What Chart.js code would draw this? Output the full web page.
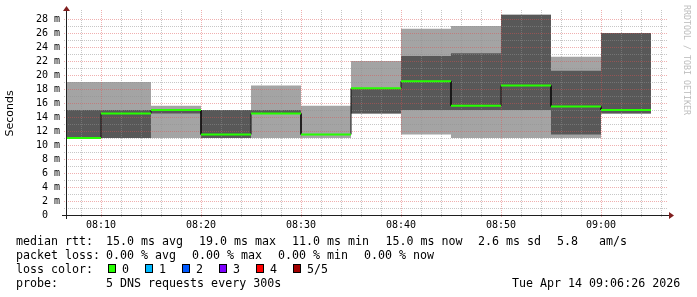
<!DOCTYPE html>
<html><head><meta charset="utf-8">
<script src="https://cdn.jsdelivr.net/npm/chart.js@4.4.1/dist/chart.umd.min.js"></script>
<style>
html,body{margin:0;padding:0;background:#fff;}
#wrap{position:relative;width:697px;height:297px;overflow:hidden;background:#fff;}
#c{position:absolute;left:0;top:0;}
.t{position:absolute;font-family:"DejaVu Sans Mono",monospace;font-size:11.65px;line-height:14px;white-space:pre;color:#000;}
.box{position:absolute;width:6px;height:7px;border:1px solid #000;top:264px;}
#wm{position:absolute;left:691px;top:5px;font-family:"DejaVu Sans Mono",monospace;font-size:8.3px;line-height:8px;white-space:pre;color:#bdbdbd;transform:rotate(90deg);transform-origin:0 0;}
</style></head><body>
<div id="wrap">
<canvas id="c" width="697" height="297"></canvas>
<div id="wm">RRDTOOL / TOBI OETIKER</div>
<div class="t" style="left:16px;top:234px">median rtt:</div>
<div class="t" style="left:106px;top:234px">15.0 ms avg</div>
<div class="t" style="left:199px;top:234px">19.0 ms max</div>
<div class="t" style="left:292px;top:234px">11.0 ms min</div>
<div class="t" style="left:385.5px;top:234px">15.0 ms now</div>
<div class="t" style="left:478px;top:234px">2.6 ms sd</div>
<div class="t" style="left:557px;top:234px">5.8   am/s</div>
<div class="t" style="left:16px;top:248px">packet loss:</div>
<div class="t" style="left:106px;top:248px">0.00 % avg</div>
<div class="t" style="left:192px;top:248px">0.00 % max</div>
<div class="t" style="left:278px;top:248px">0.00 % min</div>
<div class="t" style="left:364px;top:248px">0.00 % now</div>
<div class="t" style="left:16px;top:262px">loss color:</div>
<div id="lossLegend"></div>
<div class="t" style="left:16px;top:276px">probe:</div>
<div class="t" style="left:106px;top:276px">5 DNS requests every 300s</div>
<div class="t" style="left:512px;top:276px">Tue Apr 14 09:06:26 2026</div>
</div>
<script>
// ---- data ----
const intervalStarts = ["08:06:30","08:10","08:15","08:20","08:25","08:30","08:35","08:40","08:45","08:50","08:55","09:00"];
const intervalEnd = "09:05";
const medianRtt = [11.0, 14.5, 15.0, 11.5, 14.5, 11.5, 18.1, 19.1, 15.6, 18.5, 15.5, 15.0];
const pingMin   = [11.0, 11.0, 11.0, 11.0, 11.0, 11.0, 14.5, 11.5, 11.0, 11.0, 11.0, 14.5];
const pingMax   = [19.0, 19.0, 15.6, 15.0, 18.5, 15.6, 22.0, 26.6, 27.0, 28.6, 22.6, 26.0];
const pingLowQ  = [11.0, 11.0, 14.5, 11.0, 14.5, 11.5, 14.5, 15.0, 15.0, 15.0, 11.5, 14.5];
const pingHighQ = [15.0, 15.0, 15.1, 15.0, 15.0, 11.5, 18.1, 22.7, 23.1, 28.6, 20.6, 26.0];
const xTickLabels = ["08:10","08:20","08:30","08:40","08:50","09:00"];
const yTickValues = [0,2,4,6,8,10,12,14,16,18,20,22,24,26,28];
const lossLabels = ["0","1","2","3","4","5/5"];
const lossColors = ["#26ff00","#00b8ff","#0059ff","#7e00ff","#ff0000","#a10000"];

// ---- helpers ----
function toMin(s){const p=s.split(':').map(Number);return (p[0]-8)*60+p[1]+(p[2]||0)/60;}
const xs = intervalStarts.map(toMin);
const xEnd = toMin(intervalEnd);
function stepSeries(vals){const d=xs.map((x,i)=>({x:x,y:vals[i]}));d.push({x:xEnd,y:vals[vals.length-1]});return d;}
function segSeries(vals){const d=[];xs.forEach((x,i)=>{const e=i+1<xs.length?xs[i+1]:xEnd;d.push({x:x,y:vals[i]},{x:e,y:vals[i]},{x:e,y:null});});return d;}
function riserSeries(vals){const d=[];for(let i=1;i<xs.length;i++){d.push({x:xs[i],y:vals[i-1]},{x:xs[i],y:vals[i]},{x:xs[i],y:null});}return d;}

// loss legend
(function(){
  const host=document.getElementById('lossLegend');
  lossLabels.forEach((l,i)=>{
    const b=document.createElement('div');b.className='box';b.style.left=(108+37*i)+'px';b.style.background=lossColors[i];host.appendChild(b);
    const t=document.createElement('div');t.className='t';t.style.left=(122+37*i)+'px';t.style.top='262px';t.textContent=l;host.appendChild(t);
  });
})();

const minorGrid='rgba(143,143,143,0.5)';
const majorGrid='rgba(222,79,79,0.45)';

function drawGrid(chart){
  const ctx=chart.ctx,sx=chart.scales.x,sy=chart.scales.y,a=chart.chartArea;
  ctx.save();ctx.lineWidth=1;ctx.setLineDash([1,1]);
  const vx=(v)=>Math.round(sx.getPixelForValue(v))+0.5;
  const vy=(v)=>Math.round(sy.getPixelForValue(v))+0.5;
  for(let m=8;m<66.5;m+=2){
    const major=(m%10===0);
    ctx.strokeStyle=major?majorGrid:minorGrid;
    ctx.beginPath();ctx.moveTo(vx(m),a.bottom+2);ctx.lineTo(vx(m),a.top-2);ctx.stroke();
  }
  for(let v=1;v<=28;v++){
    const major=(v%2===0);
    ctx.strokeStyle=major?majorGrid:minorGrid;
    ctx.beginPath();ctx.moveTo(a.left-2,vy(v));ctx.lineTo(a.right+2,vy(v));ctx.stroke();
  }
  ctx.restore();
}
function drawAxes(chart){
  const ctx=chart.ctx,a=chart.chartArea;
  ctx.save();ctx.setLineDash([]);ctx.lineWidth=1;ctx.strokeStyle='#1f1f1f';
  ctx.beginPath();ctx.moveTo(a.left-4,a.bottom+0.5);ctx.lineTo(a.right+4,a.bottom+0.5);ctx.stroke();
  ctx.beginPath();ctx.moveTo(a.left+0.5,a.bottom+4);ctx.lineTo(a.left+0.5,a.top-2);ctx.stroke();
  ctx.fillStyle='#801f1f';
  ctx.beginPath();ctx.moveTo(a.right+3,a.bottom-3);ctx.lineTo(a.right+3,a.bottom+4);ctx.lineTo(a.right+8,a.bottom+0.5);ctx.closePath();ctx.fill();
  ctx.beginPath();ctx.moveTo(a.left-3,a.top-1);ctx.lineTo(a.left+4,a.top-1);ctx.lineTo(a.left+0.5,a.top-6);ctx.closePath();ctx.fill();
  ctx.restore();
}
const rrdPlugin={id:'rrd',
  beforeDatasetDraw(chart,args){if(args.index===4)drawGrid(chart);},
  afterDatasetsDraw(chart){drawAxes(chart);}
};

function band(data,order,fill,bg){return {data:data,order:order,fill:fill,backgroundColor:bg,borderColor:'rgba(0,0,0,0)',borderWidth:0,pointRadius:0,stepped:'before',tension:0};}

new Chart(document.getElementById('c'),{
  type:'line',
  data:{datasets:[
    band(stepSeries(pingMin),6,false,'rgba(0,0,0,0)'),
    band(stepSeries(pingMax),5,0,'#a4a4a4'),
    band(stepSeries(pingLowQ),4,false,'rgba(0,0,0,0)'),
    band(stepSeries(pingHighQ),3,2,'#585858'),
    {data:riserSeries(medianRtt),order:2,borderColor:'#101010',borderWidth:1,pointRadius:0,fill:false,spanGaps:false},
    {data:segSeries(medianRtt),order:1,borderColor:'#26ff00',borderWidth:2,pointRadius:0,fill:false,spanGaps:false,borderCapStyle:'butt'}
  ]},
  options:{
    responsive:false,animation:false,devicePixelRatio:1,
    layout:{padding:{left:0,top:12,right:31,bottom:62}},
    plugins:{legend:{display:false},tooltip:{enabled:false}},
    scales:{
      x:{type:'linear',min:toMin("08:06:30"),max:toMin("09:06:30"),
        grid:{display:false,drawTicks:false},border:{display:false},
        afterFit(s){s.height=20;},
        afterBuildTicks(s){s.ticks=xTickLabels.map(l=>({value:toMin(l)}));},
        ticks:{autoSkip:false,maxRotation:0,minRotation:0,padding:4,color:'#000',font:{family:'DejaVu Sans Mono',size:10},
          callback:(v,i)=>xTickLabels[i]}},
      y:{type:'linear',min:0,max:29,
        grid:{display:false,drawTicks:false},border:{display:false},
        afterFit(s){s.width=66;},
        afterBuildTicks(s){s.ticks=yTickValues.map(v=>({value:v}));},
        ticks:{autoSkip:false,padding:6,color:'#000',font:{family:'DejaVu Sans Mono',size:10},
          callback:(v)=>v===0?'0  ':v+' m'},
        title:{display:true,text:'Seconds',color:'#000',font:{family:'DejaVu Sans',size:11},padding:{top:4,bottom:0}}}
    }
  },
  plugins:[rrdPlugin]
});
</script>
</body></html>
